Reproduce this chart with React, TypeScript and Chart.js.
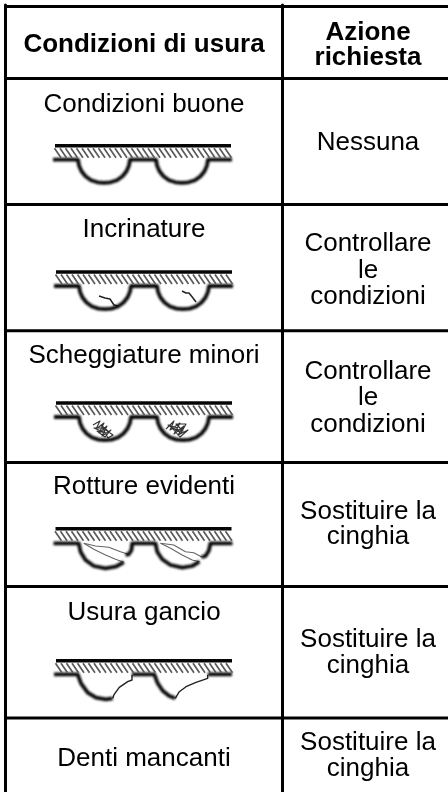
import React, { useEffect, useRef } from "react";
import { Chart, registerables } from "chart.js";

Chart.register(...registerables);

type P = [number, number];

// ---- Table content ----
const headerLeft = ["Condizioni di usura"];
const headerRight = ["Azione", "richiesta"];
const conditions = [
  "Condizioni buone",
  "Incrinature",
  "Scheggiature minori",
  "Rotture evidenti",
  "Usura gancio",
  "Denti mancanti",
];
const actions = [
  ["Nessuna"],
  ["Controllare", "le", "condizioni"],
  ["Controllare", "le", "condizioni"],
  ["Sostituire la", "cinghia"],
  ["Sostituire la", "cinghia"],
  ["Sostituire la", "cinghia"],
];

// ---- Table layout (in scale units) ----
const ruleRows = [6.5, 78.5, 204.5, 330.7, 462.5, 586.5, 718];
const ruleCols = [5.5, 282.5];
const scaleX = { min: 0, max: 448 };
const scaleY = { min: 0, max: 792 };
const leftCenter = 144;
const rightCenter = 368;
const headerLeftBase = [52];
const headerRightBase = [39.5, 64.5];
const conditionBase = [112, 237, 362.5, 494, 620, 766];
const actionBase = [
  [150],
  [251, 278, 303.5],
  [378.5, 405, 431.5],
  [518.5, 544],
  [647, 673],
  [750, 775.5],
];

// ---- Belt drawings, local units from the belt's top-left ----
const beltOrigins: (P | null)[] = [
  [55, 145.7],
  [56, 272],
  [56, 403],
  [55.5, 528.7],
  [56, 660.7],
  null,
];
const topLine: P[] = [[0, 0], [176, 0]];
const hatchStarts = [
  -1, 4.5, 10, 15.5, 21, 26.5, 32, 37.5, 43, 48.5, 54, 59.5, 65, 70.5, 76, 81.5, 87, 92.5, 98, 103.5,
  109, 114.5, 120, 125.5, 131, 136.5, 142, 147.5, 153, 158.5, 164, 169.5,
];
const wholeBelt: P[] = [
  [-2, 14], [23, 14], [24, 19.7], [26.5, 25.5], [30.5, 30.5], [36, 34.5], [42.5, 36.6], [49, 37.2],
  [55.5, 36.6], [62, 34.5], [67.5, 30.5], [71.5, 25.5], [74, 19.7], [75, 14],
  [101, 14], [102, 19.7], [104.5, 25.5], [108.5, 30.5], [114, 34.5], [120.5, 36.6], [127, 37.2],
  [133.5, 36.6], [140, 34.5], [145.5, 30.5], [149.5, 25.5], [152, 19.7], [153, 14], [177, 14],
];
const cracks: P[][] = [
  [[43, 24], [49, 26], [54, 27], [58, 33], [62, 34]],
  [[126, 19], [130, 21], [133, 21], [137, 26], [140, 30]],
];
const chips: P[][] = [
  [
    [37, 22], [44, 18], [40, 26], [48, 20], [43, 30], [51, 23], [46, 33], [55, 27], [49, 34], [41, 28],
    [50, 30], [38, 25], [47, 25], [57, 32], [52, 35], [45, 22], [53, 29],
  ],
  [
    [110, 26], [118, 18], [114, 27], [124, 20], [118, 31], [128, 23], [122, 32], [132, 27], [124, 34],
    [116, 25], [127, 28], [120, 21], [130, 21], [125, 30], [112, 22], [122, 25],
  ],
];
const brokenThick: P[][] = [
  [[-2, 14.6], [23.3, 14.6], [25, 23], [30, 31.3], [38.3, 37.3], [50, 39.6], [60, 38], [68.3, 33.6]],
  [[70, 26.3], [73.3, 25.6], [76, 21.3], [76.7, 14.6], [100, 14.6], [101.7, 23], [106.7, 30.6], [115, 36.3], [126.7, 39], [136.7, 37.3], [144, 33]],
  [[146, 28.6], [150, 27.3], [153.3, 22], [155, 14.6], [177, 14.6]],
];
const brokenThin: P[][] = [
  [[28.3, 14.6], [40, 17.3], [53.3, 18.6], [65, 23], [72.7, 25.6]],
  [[28.3, 14.6], [38.3, 20.6], [50, 26.3], [60, 30.6], [68.3, 33.6]],
  [[105, 14.6], [118.3, 16.3], [130, 23], [138.3, 24], [146.7, 28.6]],
  [[105, 14.6], [115, 19.6], [126.7, 26.3], [136.7, 31.3], [144, 33]],
];
const wornThick: P[][] = [
  [[-2, 13.6], [21.7, 13.6], [25, 22.6], [31.7, 32], [40, 37], [50, 38.6], [56.7, 37.6]],
  [[76, 13.6], [98.3, 13.6], [101.7, 22.6], [106.7, 30], [113.3, 35.3], [119.3, 37.6]],
  [[151.7, 13.6], [176, 13.6]],
];
const wornThin: P[][] = [
  [[56.7, 37.6], [58, 34], [63.3, 26.6], [71.7, 21], [76, 19.3], [76, 14.3]],
  [[119.3, 37.6], [123.3, 31], [130, 26], [140, 21.6], [151.7, 17.6], [151.7, 14.3]],
];

const INK = "#050505";

function line(points: { x: number | null; y: number | null }[], width: number, color: string, soft: number) {
  return {
    type: "scatter" as const,
    data: points,
    showLine: true,
    pointRadius: 0,
    borderColor: color,
    backgroundColor: color,
    borderWidth: width,
    borderCapStyle: "butt",
    borderJoinStyle: "round",
    spanGaps: false,
    clip: false,
    soft,
  };
}

function place(pts: P[], o: P) {
  return pts.map(([x, y]) => ({ x: x + o[0], y: y + o[1] }));
}

function buildDatasets() {
  const sets: any[] = [];
  beltOrigins.forEach((o, i) => {
    if (!o) return;
    const hatch: { x: number | null; y: number | null }[] = [];
    hatchStarts.forEach((h) => {
      hatch.push({ x: h + o[0] + 0.5, y: o[1] + 2.5 }, { x: h + o[0] + 7, y: o[1] + 12 }, { x: null, y: null });
    });
    sets.push(line(hatch, 1.7, "#5a5a5a", 0.55));
    sets.push(line(place(topLine, o), 3.6, INK, 0.7));
    if (i <= 2) {
      sets.push(line(place(wholeBelt, o), 3.8, INK, 0.85));
    }
    if (i === 1) cracks.forEach((c) => sets.push(line(place(c, o), 1.5, "#222222", 0.5)));
    if (i === 2) chips.forEach((c) => sets.push(line(place(c, o), 1.1, "#333333", 0.55)));
    if (i === 3) {
      brokenThick.forEach((c) => sets.push(line(place(c, o), 3.8, INK, 0.85)));
      brokenThin.forEach((c) => sets.push(line(place(c, o), 1.1, "#666666", 0.45)));
    }
    if (i === 4) {
      wornThick.forEach((c) => sets.push(line(place(c, o), 3.8, INK, 0.85)));
      wornThin.forEach((c) => sets.push(line(place(c, o), 1.4, "#222222", 0.45)));
    }
  });
  const rules: { x: number | null; y: number | null }[] = [];
  ruleRows.forEach((y) => rules.push({ x: 4, y }, { x: scaleX.max, y }, { x: null, y: null }));
  ruleCols.forEach((x) => rules.push({ x, y: 5 }, { x, y: scaleY.max }, { x: null, y: null }));
  sets.push(line(rules, 3, "#000000", 0));
  return sets;
}

const softLines = {
  id: "softLines",
  beforeDatasetDraw(chart: any, args: any) {
    const s = chart.data.datasets[args.index].soft;
    if (s) chart.ctx.filter = `blur(${s}px)`;
  },
  afterDatasetDraw(chart: any) {
    chart.ctx.filter = "none";
  },
};

const tableText = {
  id: "tableText",
  afterDatasetsDraw(chart: any) {
    const { ctx, scales } = chart;
    const put = (text: string, cx: number, base: number, bold: boolean) => {
      ctx.save();
      ctx.filter = "blur(0.3px)";
      ctx.fillStyle = "#000000";
      ctx.textAlign = "center";
      ctx.textBaseline = "alphabetic";
      ctx.font = `${bold ? "bold " : ""}26px "Liberation Sans"`;
      ctx.fillText(text, scales.x.getPixelForValue(cx), scales.y.getPixelForValue(base));
      ctx.restore();
    };
    headerLeft.forEach((t, i) => put(t, leftCenter, headerLeftBase[i], true));
    headerRight.forEach((t, i) => put(t, rightCenter, headerRightBase[i], true));
    conditions.forEach((t, i) => put(t, leftCenter, conditionBase[i], false));
    actions.forEach((lines, r) => lines.forEach((t, i) => put(t, rightCenter, actionBase[r][i], false)));
  },
};

export default function App() {
  const ref = useRef<HTMLCanvasElement>(null);
  useEffect(() => {
    document.body.style.margin = "0";
    const chart = new Chart(ref.current as HTMLCanvasElement, {
      type: "scatter",
      data: { datasets: buildDatasets() },
      options: {
        animation: false,
        responsive: false,
        events: [],
        plugins: { legend: { display: false }, tooltip: { enabled: false } },
        scales: {
          x: { type: "linear", min: scaleX.min, max: scaleX.max, display: false },
          y: { type: "linear", min: scaleY.min, max: scaleY.max, reverse: true, display: false },
        },
      },
      plugins: [softLines, tableText],
    } as any);
    return () => chart.destroy();
  }, []);
  return (
    <div style={{ position: "absolute", left: 0, top: 0, width: 448, height: 792, background: "#fff" }}>
      <canvas ref={ref} width={448} height={792} style={{ display: "block" }} />
    </div>
  );
}
